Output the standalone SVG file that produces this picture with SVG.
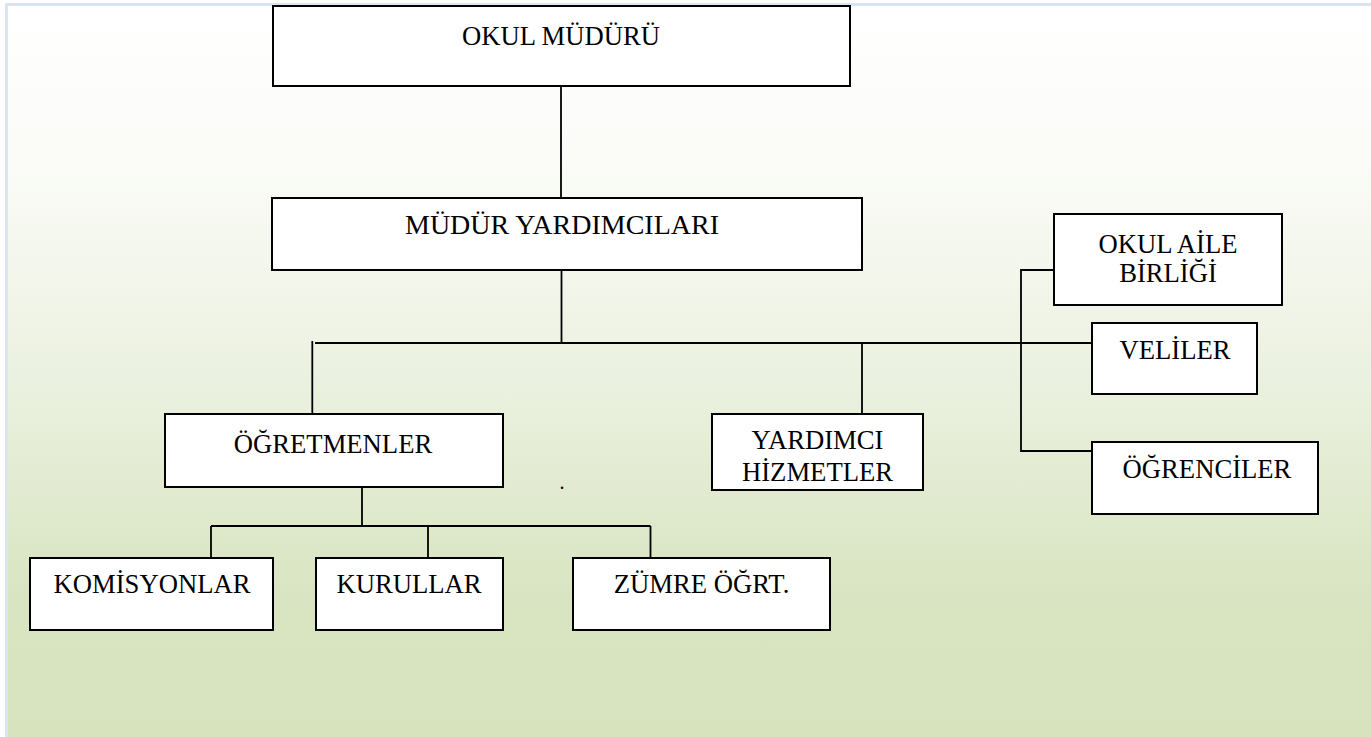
<svg xmlns="http://www.w3.org/2000/svg" width="1371" height="737" viewBox="0 0 1371 737">
  <defs>
    <linearGradient id="bg" x1="0" y1="0" x2="0" y2="1">
      <stop offset="0" stop-color="#ffffff"/>
      <stop offset="0.2" stop-color="#fbfcf8"/>
      <stop offset="0.5" stop-color="#ebf1e0"/>
      <stop offset="0.78" stop-color="#d9e5c2"/>
      <stop offset="1" stop-color="#d7e3bd"/>
    </linearGradient>
    <style>
      .box { fill: #ffffff; stroke: #000000; stroke-width: 2; }
      .lbl { font-family: "Liberation Serif", "Times New Roman", serif; font-size: 26.67px; fill: #000000; text-anchor: middle; }
      .ln { fill: none; stroke: #000000; stroke-width: 1.8; }
    </style>
  </defs>
  <rect x="0" y="0" width="1371" height="737" fill="#ffffff"/>
  <rect x="6.5" y="4.5" width="1380" height="750" fill="url(#bg)" stroke="#dbe5f1" stroke-width="3"/>

  <g id="connectors">
    <line class="ln" x1="561" y1="86" x2="561" y2="198"/>
    <line class="ln" x1="561.5" y1="270" x2="561.5" y2="343"/>
    <line class="ln" x1="315" y1="343" x2="1092" y2="343"/>
    <line class="ln" x1="312.3" y1="341" x2="312.3" y2="414"/>
    <line class="ln" x1="862" y1="343" x2="862" y2="414"/>
    <polyline class="ln" points="1054,270 1021,270 1021,451 1092,451"/>
    <line class="ln" x1="362" y1="487" x2="362" y2="526"/>
    <line class="ln" x1="211" y1="526" x2="650.5" y2="526"/>
    <line class="ln" x1="211" y1="526" x2="211" y2="558"/>
    <line class="ln" x1="428" y1="526" x2="428" y2="558"/>
    <line class="ln" x1="650.5" y1="526" x2="650.5" y2="558"/>
  </g>

  <g id="okul-muduru">
    <rect class="box" x="273" y="6" width="577" height="80"/>
    <text class="lbl" x="561" y="45">OKUL MÜDÜRÜ</text>
  </g>
  <g id="mudur-yardimcilari">
    <rect class="box" x="272" y="198" width="590" height="72"/>
    <text class="lbl" x="562" y="234" style="font-size:28px">MÜDÜR YARDIMCILARI</text>
  </g>
  <g id="okul-aile-birligi">
    <rect class="box" x="1054" y="214" width="228" height="91"/>
    <text class="lbl" x="1168" y="253">OKUL AİLE</text>
    <text class="lbl" x="1168" y="282">BİRLİĞİ</text>
  </g>
  <g id="veliler">
    <rect class="box" x="1092" y="323" width="165" height="71"/>
    <text class="lbl" x="1175" y="359">VELİLER</text>
  </g>
  <g id="ogretmenler">
    <rect class="box" x="165" y="414" width="338" height="73"/>
    <text class="lbl" x="333" y="453">ÖĞRETMENLER</text>
  </g>
  <g id="yardimci-hizmetler">
    <rect class="box" x="712" y="414" width="211" height="76"/>
    <text class="lbl" x="817.5" y="449">YARDIMCI</text>
    <text class="lbl" x="817.5" y="481">HİZMETLER</text>
  </g>
  <g id="ogrenciler">
    <rect class="box" x="1092" y="442" width="226" height="72"/>
    <text class="lbl" x="1207" y="478">ÖĞRENCİLER</text>
  </g>
  <g id="komisyonlar">
    <rect class="box" x="30" y="558" width="243" height="72"/>
    <text class="lbl" x="152" y="593">KOMİSYONLAR</text>
  </g>
  <g id="kurullar">
    <rect class="box" x="316" y="558" width="187" height="72"/>
    <text class="lbl" x="409" y="593">KURULLAR</text>
  </g>
  <g id="zumre">
    <rect class="box" x="573" y="558" width="257" height="72"/>
    <text class="lbl" x="701.5" y="593">ZÜMRE ÖĞRT.</text>
  </g>
  <text class="lbl" x="562" y="489" style="font-size:20px">.</text>
</svg>
